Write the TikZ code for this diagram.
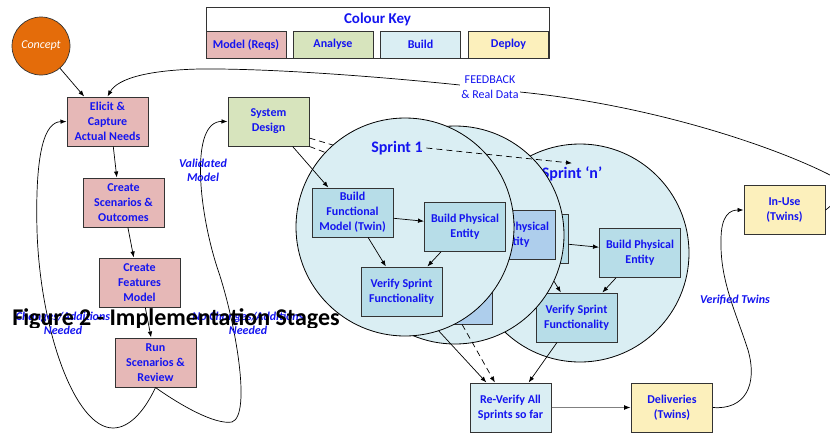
\documentclass[tikz,border=0pt]{standalone}
\usepackage{fontspec}
\setmainfont{Carlito}
\usetikzlibrary{arrows.meta}
\definecolor{reqs}{RGB}{230,184,183}
\definecolor{anal}{RGB}{215,228,189}
\definecolor{bld}{RGB}{218,238,243}
\definecolor{bldbox}{RGB}{183,221,232}
\definecolor{bldmid}{RGB}{174,206,236}
\definecolor{depl}{RGB}{252,240,188}
\definecolor{conc}{RGB}{228,108,10}
\definecolor{txt}{RGB}{20,20,240}
\newcommand{\sprintset}[6]{%
\begin{scope}[shift={(#2,#3)}]
\node[sprint] (S#1) at (405,227) {};
\node[sprname] (T#1) at (397,148) {#5};
\node[box,fill=#4] (F#1) at (352.5,212.5) {Build\\Functional\\Model (Twin)};
\node[box,fill=#4] (P#1) at (465,227) {Build Physical\\Entity};
\node[box,fill=#4] (V#1) at (401.5,291.5) {#6};
\draw[->] (F#1.-8) -- (P#1.172);
\draw[->] (F#1.-58) -- (V#1.122);
\draw[->] (P#1.-134) -- (V#1.44);
\end{scope}}

\begin{document}
\begin{tikzpicture}[x=1pt,y=-1pt,line width=0.7pt,>={Latex[length=6pt,width=4.5pt]}]
\tikzstyle{every node}=[font=\fontsize{12}{15}\selectfont\bfseries,text=txt,align=center]
\tikzstyle{box}=[draw=black!80,line width=1pt,minimum width=81pt,minimum height=49pt,inner sep=1pt]
\tikzstyle{key}=[draw=black!80,line width=0.8pt,minimum width=80pt,minimum height=27pt,inner sep=1pt]
\tikzstyle{sprint}=[circle,draw=black,line width=0.8pt,fill=bld,minimum size=218pt,inner sep=0pt]
\tikzstyle{sprname}=[font=\fontsize{16}{18}\selectfont\bfseries]
\tikzstyle{lbl}=[font=\fontsize{12}{14}\selectfont\bfseries\itshape]
\useasboundingbox (0,0) rectangle (830,432);
\draw[draw=black!80,line width=0.8pt] (206,7) rectangle (549,58);
\node[font=\fontsize{15}{18}\selectfont\bfseries] (Key) at (377.5,19) {Colour Key};
\node[key,fill=reqs] (K1) at (246,44.5) {Model (Reqs)};
\node[key,fill=anal] (K2) at (333,44.5) {Analyse};
\node[key,fill=bld] (K3) at (420.5,44.5) {Build};
\node[key,fill=depl] (K4) at (508.5,44.5) {Deploy};
\node[circle,draw=black!80,fill=conc,minimum size=58pt,inner sep=0pt,
  font=\fontsize{12}{14}\selectfont\itshape,text=white] (Con) at (41,46) {Concept};
\node[box,fill=reqs] (Eli) at (107.5,121.5) {Elicit \&\\Capture\\Actual Needs};
\node[box,fill=reqs] (Sce) at (123.5,202.5) {Create\\Scenarios \&\\Outcomes};
\node[box,fill=reqs] (Fea) at (139.5,282.5) {Create\\Features\\Model};
\node[box,fill=reqs] (Run) at (155.5,362.5) {Run\\Scenarios \&\\Review};
\node[box,fill=anal] (Sys) at (268.5,121.5) {System\\Design};
\node[box,fill=bld] (Rev) at (510.5,407.5) {Re-Verify All\\Sprints so far};
\node[box,fill=depl] (Del) at (672,407.5) {Deliveries\\(Twins)};
\node[box,fill=depl] (Use) at (784.5,210) {In-Use\\(Twins)};
\coordinate (dn) at (470,186);
\coordinate (dm) at (430,192);
\draw[dash pattern=on 6pt off 4pt] (Sys.-22) -- (dn);
\draw[dash pattern=on 6pt off 4pt] (Sys.south east) -- (dm);
\sprintset{n}{175}{26}{bldbox}{Sprint ‘n’}{Verify Sprint\\Functionality}
\sprintset{m}{50}{8}{bldmid}{}{}
\coordinate (v1) at (425,316);
\draw[->] (v1) -- (Rev.134);
\draw[->,dash pattern=on 6pt off 4pt] (Vm.-67) -- (Rev.122);
\sprintset{1}{0}{0}{bldbox}{Sprint 1}{Verify Sprint\\Functionality}
\draw[->] (Sys.-46) -- (F1.134);
\draw[->,dash pattern=on 6pt off 4pt] (T1.east) -- (Tn.north);
\draw[->] (Vn.-128) -- (Rev.54);
\draw[draw=black!50,line width=1.6pt,-{Latex[black,length=7pt,width=5pt]}] (Rev) -- (Del);
\draw[->] (Con) -- (Eli.133);
\draw[->] (Eli.-77) -- (Sce.105);
\draw[->] (Sce.-80) -- (Fea.103);
\draw[->] (Fea.-77) -- (Run.100);
\draw[->] (Run.south) .. controls (145,410) and (130,428) .. (113,428)
  .. controls (75,428) and (40,330) .. (37,230)
  .. controls (35,150) and (45,122) .. (Eli.west);
\draw[->] (Run.south) .. controls (180,405) and (215,425) .. (232,422)
  .. controls (252,415) and (235,320) .. (218,270)
  .. controls (198,210) and (190,121) .. (Sys.west);
\draw[->] (Del.east) .. controls (745,410) and (758,385) .. (748,350)
  .. controls (735,310) and (720,280) .. (721,240)
  .. controls (721,215) and (730,210) .. (Use.west);
\draw[->] (Use.east) .. controls (840,200) and (845,182) .. (828,174)
  .. controls (770,145) and (650,105) .. (520,92)
  .. controls (470,85) and (300,68) .. (200,69)
  .. controls (150,70) and (118,78) .. (Eli.north);
\node[fill=white,inner sep=1pt,font=\fontsize{12}{15}\selectfont] (Fb) at (490,87) {FEEDBACK\\\& Real Data};
\node[lbl] (Val) at (203,170.5) {Validated\\Model};
\node[lbl] (Chg) at (63,323) {Changes/Additions\\Needed};
\node[lbl] (NoC) at (248,323) {No Changes/Additions\\Needed};
\node[lbl] (Ver) at (735,300) {Verified Twins};
\begin{scope}
\clip (0,300) rectangle (345,327);
\node[anchor=base,font=\fontsize{24}{28}\selectfont\bfseries,text=black] (Cap) at (176,325) {Figure 2 - Implementation Stages};
\end{scope}
\end{tikzpicture}
\end{document}
